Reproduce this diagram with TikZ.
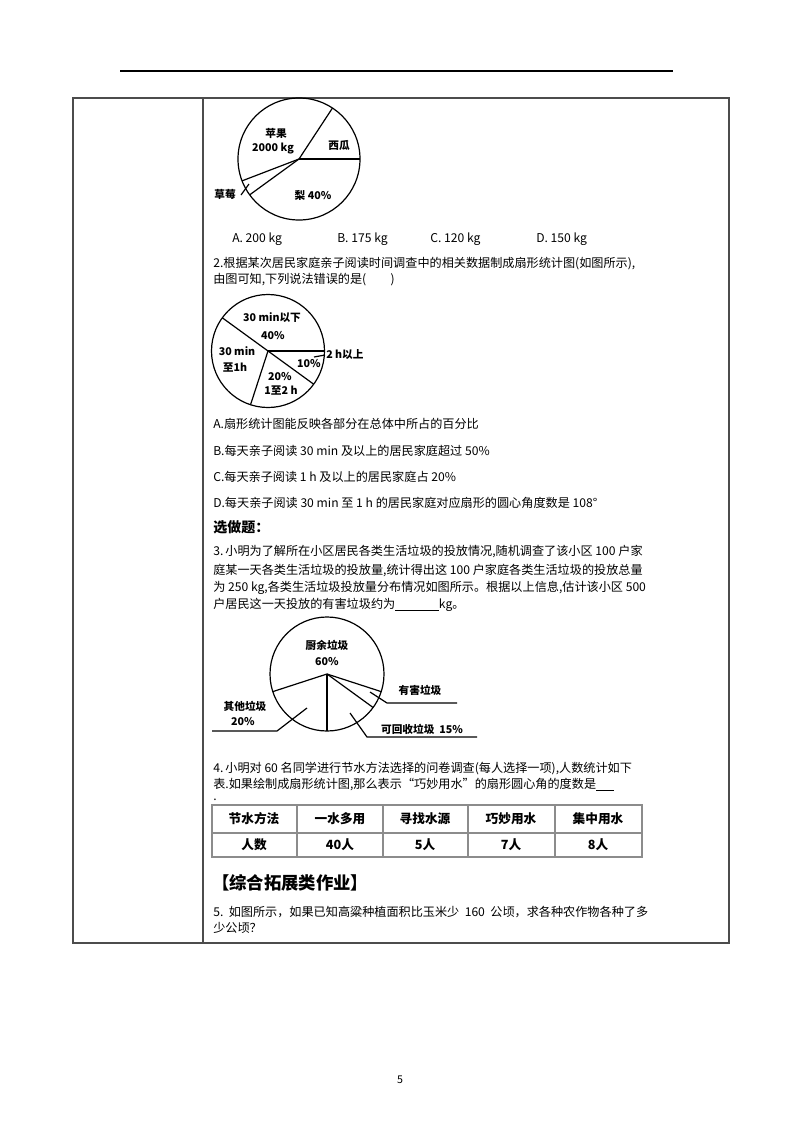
\documentclass[tikz,border=0pt]{standalone}
\usepackage{fontspec}
\setmainfont{Noto Sans CJK SC}
\begin{document}
\begin{tikzpicture}[x=0.75pt,y=-0.75pt,
  txt/.style={anchor=west,inner sep=0,font=\fontsize{9.1}{10}\selectfont},
  lbl/.style={inner sep=0,font=\fontsize{8}{9}\selectfont\bfseries},
  cell/.style={inner sep=0,font=\fontsize{9.5}{10}\selectfont\bfseries},
  pie/.style={line width=0.9pt}]
\useasboundingbox (0,0) rectangle (800,1132);
% header rule and frame
\draw[line width=0.8pt] (120,71) -- (673,71);
\draw[line width=0.9pt,black!70] (73,98) rectangle (729,943);
\draw[line width=0.9pt,black!70] (203,98) -- (203,943);
% pie 1
\coordinate (c1) at (299,159);
\draw[pie] (c1) circle (61);
\draw[pie] (c1) -- ++(0:61);
\draw[pie] (c1) -- ++(-56.7:61);
\draw[pie] (c1) -- ++(-201:61);
\draw[pie] (c1) -- ++(-216:61);
\coordinate (s1) at (249,184);
\coordinate (s2) at (241,195);
\draw[pie] (s1) -- (s2);
\node[lbl] (p1a) at (276,133) {苹果};
\node[lbl] (p1b) at (273,149) {2000 kg};
\node[lbl] (p1c) at (339,145) {西瓜};
\node[lbl] (p1d) at (225,194) {草莓};
\node[lbl] (p1e) at (313,195) {梨 40\%};
\node[txt] (oA) at (232,239) {A.\ 200 kg};
\node[txt] (oB) at (337,239) {B.\ 175 kg};
\node[txt] (oC) at (430,239) {C.\ 120 kg};
\node[txt] (oD) at (536,239) {D.\ 150 kg};
\node[txt] (q2a) at (213,264) {2.根据某次居民家庭亲子阅读时间调查中的相关数据制成扇形统计图(如图所示),};
\node[txt] (q2b) at (213,280) {由图可知,下列说法错误的是(\quad\quad)};
% pie 2
\coordinate (c2) at (268,351);
\draw[pie] (c2) circle (56.5);
\draw[pie] (c2) -- ++(0:56.5);
\draw[pie] (c2) -- ++(-144:56.5);
\draw[pie] (c2) -- ++(36:56.5);
\draw[pie] (c2) -- ++(108:56.5);
\coordinate (l2a) at (314,357);
\coordinate (l2b) at (325,355);
\draw[pie] (l2a) -- (l2b);
\node[lbl] (p2a) at (272,318) {30 min以下};
\node[lbl] (p2b) at (273,336) {40\%};
\node[lbl] (p2c) at (237,351) {30 min};
\node[lbl] (p2d) at (235,368) {至1h};
\node[lbl] (p2e) at (309,364) {10\%};
\node[lbl] (p2f) at (280,377) {20\%};
\node[lbl] (p2g) at (281,391) {1至2 h};
\node[lbl,anchor=west] (p2h) at (326,355) {2 h以上};
\node[txt] (a2) at (213,424) {A.扇形统计图能反映各部分在总体中所占的百分比};
\node[txt] (b2) at (213,451) {B.每天亲子阅读 30 min 及以上的居民家庭超过 50\%};
\node[txt] (c2t) at (213,477) {C.每天亲子阅读 1 h 及以上的居民家庭占 20\%};
\node[txt] (d2) at (213,503) {D.每天亲子阅读 30 min 至 1 h 的居民家庭对应扇形的圆心角度数是 108°};
\node[txt,font=\fontsize{10.5}{11}\selectfont\bfseries] (xz) at (213,527) {选做题：};
\node[txt] (q3a) at (213,552) {3.\,小明为了解所在小区居民各类生活垃圾的投放情况,随机调查了该小区 100 户家};
\node[txt] (q3b) at (213,570) {庭某一天各类生活垃圾的投放量,统计得出这 100 户家庭各类生活垃圾的投放总量};
\node[txt] (q3c) at (213,588) {为 250 kg,各类生活垃圾投放量分布情况如图所示。根据以上信息,估计该小区 500};
\node[txt] (q3d) at (213,605) {户居民这一天投放的有害垃圾约为\underline{\hspace{3.6em}}kg。};
% pie 3
\coordinate (c3) at (327,674);
\draw[pie] (c3) circle (57);
\draw[pie] (c3) -- ++(-198:57);
\draw[pie] (c3) -- ++(-270:57);
\draw[pie] (c3) -- ++(36:57);
\draw[pie] (c3) -- ++(18:57);
\coordinate (h1) at (370,692);
\coordinate (h2) at (387,703);
\coordinate (h3) at (457,703);
\draw[pie] (h1) -- (h2) -- (h3);
\coordinate (r1) at (350,713);
\coordinate (r2) at (367,737);
\coordinate (r3) at (477,737);
\draw[pie] (r1) -- (r2) -- (r3);
\coordinate (o1) at (307,708);
\coordinate (o2) at (277,731);
\coordinate (o3) at (212,731);
\draw[pie] (o1) -- (o2) -- (o3);
\node[lbl] (p3a) at (327,645) {厨余垃圾};
\node[lbl] (p3b) at (327,662) {60\%};
\node[lbl] (p3c) at (420,690) {有害垃圾};
\node[lbl] (p3d) at (422,729) {可回收垃圾\ \ 15\%};
\node[lbl] (p3e) at (245,706) {其他垃圾};
\node[lbl] (p3f) at (243,722) {20\%};
\node[txt] (q4a) at (213,769) {4.\,小明对 60 名同学进行节水方法选择的问卷调查(每人选择一项),人数统计如下};
\node[txt] (q4b) at (213,785) {表.如果绘制成扇形统计图,那么表示“巧妙用水”的扇形圆心角的度数是\underline{\hspace{1.5em}}};
\node[txt] (q4c) at (213,800) {.};
% table
\draw[black!45,line width=0.8pt] (212,805) rectangle (642,857);
\draw[black!45,line width=0.8pt] (212,833) -- (642,833);
\foreach \x in {297,383,468,555} \draw[black!45,line width=0.8pt] (\x,805) -- (\x,857);
\node[cell] (t11) at (254,819) {节水方法};
\node[cell] (t12) at (340,819) {一水多用};
\node[cell] (t13) at (425,819) {寻找水源};
\node[cell] (t14) at (511,819) {巧妙用水};
\node[cell] (t15) at (598,819) {集中用水};
\node[cell] (t21) at (254,845) {人数};
\node[cell] (t22) at (340,845) {40人};
\node[cell] (t23) at (425,845) {5人};
\node[cell] (t24) at (511,845) {7人};
\node[cell] (t25) at (598,845) {8人};
\node[txt,font=\fontsize{13}{14}\selectfont\bfseries] (hd) at (212,883) {【综合拓展类作业】};
\node[txt] (q5a) at (213,912) {5.\ \ 如图所示，如果已知高粱种植面积比玉米少\ \ 160\ \ 公顷，求各种农作物各种了多};
\node[txt] (q5b) at (213,928) {少公顷？};
\node[inner sep=0,font=\fontsize{8}{9}\selectfont] (pg) at (400,1080) {5};
\end{tikzpicture}
\end{document}
